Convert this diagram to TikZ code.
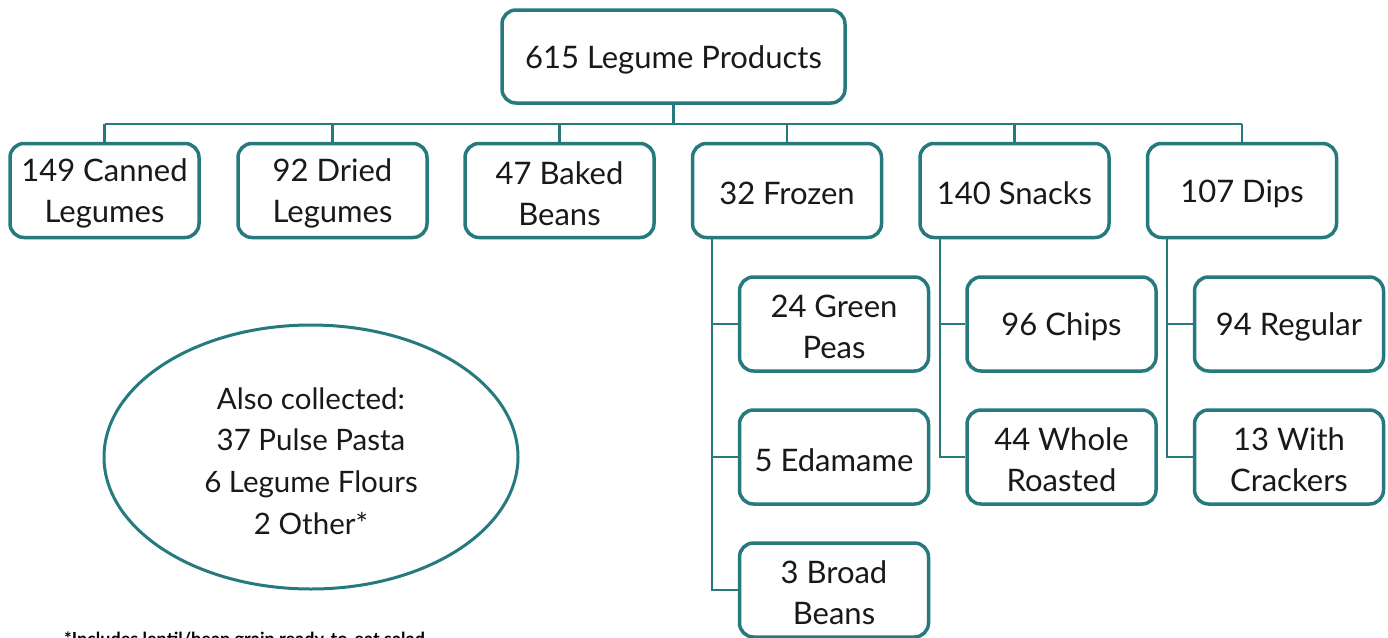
\documentclass[tikz,border=0pt]{standalone}
\usepackage{fontspec}
\setmainfont{Lato}
\usetikzlibrary{calc,shapes.geometric}
\definecolor{teal1}{RGB}{38,122,126}
\definecolor{txt}{RGB}{25,25,25}
\tikzset{
  box/.style={draw=teal1, line width=3.5pt, rounded corners=14pt, fill=white,
    minimum width=189pt, minimum height=94pt, inner sep=0pt},
  lbl/.style={align=center, text=txt, inner sep=0pt, font=\fontsize{31}{41}\selectfont},
  conn/.style={draw=teal1, line width=2.6pt},
}
\newcommand{\bx}[3]{%
  \node[box] (#1) at (#2) {};
  \node[lbl] (#1-t) at ($(#1)+(0,3)$) {#3};}
\begin{document}
\begin{tikzpicture}[x=1pt,y=-1pt]
\useasboundingbox (0,0) rectangle (1388,637);
\fill[white] (0,0) rectangle (1388,637);
% root
\node[box, minimum width=343pt, minimum height=93pt] (root) at (673.5,56.5) {};
\node[lbl] (root-t) at ($(root)+(0,3)$) {615 Legume Products};
% level 1
\bx{canned}{104.5,190.5}{149 Canned\\Legumes}
\bx{dried}{332.5,190.5}{92 Dried\\Legumes}
\bx{baked}{559.5,190.5}{47 Baked\\Beans}
\bx{frozen}{787,190.5}{32 Frozen}
\bx{snacks}{1014.5,190.5}{140 Snacks}
\bx{dips}{1242,190.5}{107 Dips}
% children
\bx{peas}{834,324}{24 Green\\Peas}
\bx{edam}{834,457}{5 Edamame}
\bx{broad}{834,590}{3 Broad\\Beans}
\bx{chips}{1061.5,324}{96 Chips}
\bx{whole}{1061.5,457}{44 Whole\\Roasted}
\bx{regular}{1289,324}{94 Regular}
\bx{crack}{1289,457}{13 With\\Crackers}
% bus
\coordinate (bus) at (0,124);
\draw[conn] (root.south) -- (root.south |- bus);
\draw[conn] (canned.north |- bus) -- (dips.north |- bus);
\foreach \n in {canned,dried,baked,frozen,snacks,dips}
  \draw[conn] (\n.north |- bus) -- (\n.north);
% frozen branch
\coordinate (fx) at (712,238);
\draw[conn] (fx) -- (fx |- broad.west) -- (broad.west);
\draw[conn] (fx |- peas.west) -- (peas.west);
\draw[conn] (fx |- edam.west) -- (edam.west);
% snacks branch
\coordinate (sx) at (940,238);
\draw[conn] (sx) -- (sx |- whole.west) -- (whole.west);
\draw[conn] (sx |- chips.west) -- (chips.west);
% dips branch
\coordinate (dx) at (1167,238);
\draw[conn] (dx) -- (dx |- crack.west) -- (crack.west);
\draw[conn] (dx |- regular.west) -- (regular.west);
% ellipse
\node[draw=teal1, line width=3pt, ellipse, minimum width=414pt, minimum height=264pt, inner sep=0pt] (also) at (311,457) {};
\node[lbl, font=\fontsize{29.5}{41.7}\selectfont] (also-t) at ($(also)+(0,4)$)
  {Also collected:\\37 Pulse Pasta\\6 Legume Flours\\2 Other*};
% footnote
\node[anchor=base west, inner sep=0pt, text=black, font=\fontsize{18}{20}\selectfont\bfseries] (foot) at (64,645)
  {*Includes lentil/bean grain ready-to-eat salad};
\end{tikzpicture}
\end{document}
